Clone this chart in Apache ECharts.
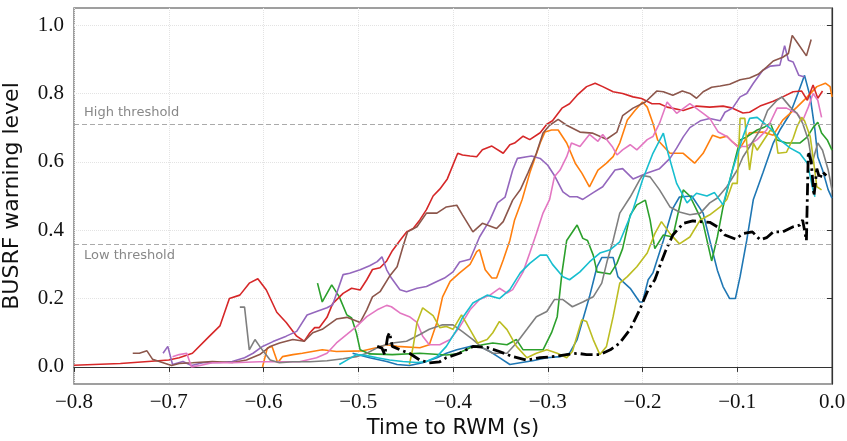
<!DOCTYPE html>
<html>
<head>
<meta charset="utf-8">
<script src="https://cdn.jsdelivr.net/npm/echarts@6/dist/echarts.min.js"></script>
<style>
  html, body { margin: 0; padding: 0; background: #fff; }
  #chart { width: 847px; height: 441px; }
</style>
</head>
<body>
<div id="chart"></div>
<script>
// tick values
const xTicks = [-0.8, -0.7, -0.6, -0.5, -0.4, -0.3, -0.2, -0.1, 0.0];
const yTicks = [0.0, 0.2, 0.4, 0.6, 0.8, 1.0];

// warning thresholds
const highThreshold = 0.71;
const lowThreshold = 0.361;

// one trace per shot: [time to RWM (s), warning level]
const shotRed = [[-0.800,0.005],[-0.751,0.01],[-0.700,0.02],[-0.689,0.027],[-0.675,0.04],[-0.657,0.09],[-0.646,0.12],[-0.636,0.2],[-0.625,0.21],[-0.615,0.245],[-0.606,0.258],[-0.597,0.225],[-0.586,0.16],[-0.576,0.13],[-0.565,0.09],[-0.557,0.075],[-0.551,0.1],[-0.546,0.115],[-0.541,0.115],[-0.533,0.145],[-0.527,0.185],[-0.516,0.215],[-0.507,0.23],[-0.498,0.225],[-0.491,0.255],[-0.485,0.285],[-0.477,0.29],[-0.470,0.31],[-0.464,0.34],[-0.456,0.37],[-0.449,0.395],[-0.442,0.405],[-0.435,0.43],[-0.428,0.46],[-0.421,0.5],[-0.414,0.52],[-0.406,0.55],[-0.395,0.625],[-0.390,0.62],[-0.382,0.617],[-0.375,0.615],[-0.369,0.635],[-0.359,0.646],[-0.347,0.625],[-0.340,0.65],[-0.335,0.655],[-0.326,0.675],[-0.319,0.665],[-0.308,0.685],[-0.301,0.71],[-0.295,0.72],[-0.285,0.757],[-0.277,0.77],[-0.269,0.795],[-0.259,0.82],[-0.250,0.83],[-0.242,0.82],[-0.231,0.805],[-0.221,0.8],[-0.210,0.79],[-0.201,0.785],[-0.190,0.77],[-0.182,0.77],[-0.174,0.76],[-0.157,0.75],[-0.143,0.763],[-0.129,0.76],[-0.115,0.763],[-0.105,0.757],[-0.094,0.743],[-0.087,0.745],[-0.076,0.763],[-0.062,0.777],[-0.052,0.79],[-0.041,0.805],[-0.032,0.807],[-0.026,0.78],[-0.020,0.825],[-0.015,0.786],[-0.010,0.807]];

const shotBrown = [[-0.738,0.04],[-0.731,0.04],[-0.723,0.047],[-0.717,0.022],[-0.710,0.016],[-0.697,0.004],[-0.689,0.01],[-0.675,0.012],[-0.654,0.016],[-0.633,0.013],[-0.618,0.02],[-0.604,0.036],[-0.593,0.06],[-0.583,0.07],[-0.569,0.08],[-0.557,0.075],[-0.548,0.1],[-0.538,0.11],[-0.523,0.14],[-0.512,0.145],[-0.498,0.13],[-0.491,0.167],[-0.485,0.205],[-0.477,0.22],[-0.467,0.265],[-0.459,0.293],[-0.453,0.35],[-0.448,0.395],[-0.438,0.41],[-0.428,0.45],[-0.417,0.45],[-0.407,0.468],[-0.396,0.473],[-0.390,0.445],[-0.379,0.395],[-0.369,0.42],[-0.354,0.405],[-0.347,0.425],[-0.337,0.488],[-0.329,0.518],[-0.321,0.567],[-0.312,0.625],[-0.305,0.684],[-0.298,0.707],[-0.289,0.724],[-0.280,0.707],[-0.266,0.687],[-0.253,0.684],[-0.238,0.666],[-0.227,0.687],[-0.221,0.735],[-0.210,0.757],[-0.197,0.775],[-0.185,0.807],[-0.178,0.805],[-0.168,0.795],[-0.158,0.807],[-0.150,0.8],[-0.143,0.786],[-0.136,0.805],[-0.127,0.818],[-0.118,0.822],[-0.108,0.827],[-0.097,0.84],[-0.087,0.845],[-0.078,0.856],[-0.069,0.877],[-0.062,0.895],[-0.052,0.906],[-0.046,0.917],[-0.042,0.97],[-0.036,0.946],[-0.027,0.91],[-0.022,0.958]];

const shotPurple = [[-0.706,0.04],[-0.701,0.06],[-0.696,0.007],[-0.685,0.016],[-0.676,0.004],[-0.664,0.012],[-0.646,0.013],[-0.633,0.016],[-0.620,0.027],[-0.611,0.04],[-0.601,0.06],[-0.590,0.074],[-0.576,0.09],[-0.565,0.104],[-0.554,0.152],[-0.544,0.162],[-0.533,0.173],[-0.527,0.182],[-0.516,0.27],[-0.509,0.274],[-0.498,0.284],[-0.488,0.296],[-0.480,0.308],[-0.475,0.322],[-0.470,0.284],[-0.465,0.26],[-0.456,0.226],[-0.449,0.22],[-0.438,0.23],[-0.428,0.235],[-0.417,0.25],[-0.409,0.26],[-0.400,0.278],[-0.393,0.307],[-0.382,0.315],[-0.372,0.38],[-0.361,0.43],[-0.353,0.48],[-0.345,0.497],[-0.337,0.576],[-0.332,0.61],[-0.322,0.615],[-0.317,0.617],[-0.308,0.61],[-0.300,0.59],[-0.293,0.56],[-0.284,0.512],[-0.277,0.498],[-0.269,0.498],[-0.263,0.49],[-0.252,0.51],[-0.242,0.527],[-0.229,0.576],[-0.221,0.58],[-0.210,0.55],[-0.195,0.567],[-0.182,0.58],[-0.171,0.61],[-0.164,0.64],[-0.157,0.673],[-0.150,0.7],[-0.139,0.72],[-0.129,0.727],[-0.118,0.72],[-0.113,0.745],[-0.105,0.757],[-0.097,0.79],[-0.090,0.8],[-0.083,0.83],[-0.073,0.868],[-0.065,0.88],[-0.055,0.883],[-0.050,0.94],[-0.046,0.897],[-0.041,0.892],[-0.035,0.853],[-0.029,0.848]];

const shotPink = [[-0.696,0.03],[-0.689,0.036],[-0.681,0.04],[-0.676,0.0],[-0.667,0.004],[-0.654,0.012],[-0.633,0.012],[-0.604,0.015],[-0.562,0.015],[-0.544,0.027],[-0.533,0.04],[-0.523,0.07],[-0.512,0.095],[-0.502,0.118],[-0.491,0.147],[-0.480,0.167],[-0.470,0.18],[-0.465,0.176],[-0.456,0.158],[-0.446,0.147],[-0.438,0.13],[-0.432,0.09],[-0.425,0.065],[-0.414,0.065],[-0.403,0.08],[-0.393,0.117],[-0.382,0.167],[-0.372,0.197],[-0.361,0.21],[-0.351,0.23],[-0.343,0.216],[-0.337,0.226],[-0.326,0.278],[-0.319,0.333],[-0.312,0.39],[-0.305,0.45],[-0.298,0.49],[-0.293,0.556],[-0.287,0.576],[-0.280,0.615],[-0.275,0.655],[-0.266,0.645],[-0.256,0.68],[-0.247,0.66],[-0.242,0.68],[-0.232,0.645],[-0.227,0.62],[-0.221,0.635],[-0.213,0.65],[-0.206,0.635],[-0.195,0.665],[-0.189,0.674],[-0.182,0.713],[-0.174,0.775],[-0.164,0.742],[-0.150,0.77],[-0.136,0.742],[-0.129,0.727],[-0.120,0.687],[-0.111,0.674],[-0.100,0.645],[-0.090,0.645],[-0.079,0.665],[-0.069,0.693],[-0.058,0.757],[-0.048,0.757],[-0.037,0.742],[-0.031,0.72],[-0.025,0.76],[-0.020,0.8],[-0.015,0.78],[-0.011,0.73]];

const shotOrange = [[-0.601,0.0],[-0.596,0.055],[-0.591,0.06],[-0.585,0.012],[-0.580,0.03],[-0.569,0.036],[-0.559,0.04],[-0.538,0.05],[-0.523,0.045],[-0.495,0.047],[-0.480,0.057],[-0.470,0.065],[-0.459,0.06],[-0.435,0.056],[-0.425,0.065],[-0.417,0.13],[-0.411,0.205],[-0.403,0.25],[-0.393,0.275],[-0.382,0.3],[-0.375,0.337],[-0.372,0.343],[-0.366,0.284],[-0.359,0.26],[-0.354,0.26],[-0.347,0.313],[-0.340,0.37],[-0.335,0.43],[-0.327,0.49],[-0.319,0.567],[-0.308,0.655],[-0.303,0.687],[-0.296,0.693],[-0.289,0.693],[-0.280,0.655],[-0.271,0.596],[-0.264,0.567],[-0.256,0.527],[-0.247,0.576],[-0.238,0.596],[-0.231,0.615],[-0.224,0.655],[-0.216,0.722],[-0.208,0.75],[-0.200,0.775],[-0.195,0.76],[-0.189,0.713],[-0.184,0.664],[-0.171,0.625],[-0.157,0.625],[-0.145,0.596],[-0.136,0.625],[-0.126,0.678],[-0.118,0.67],[-0.111,0.675],[-0.105,0.658],[-0.097,0.64],[-0.087,0.685],[-0.073,0.687],[-0.062,0.678],[-0.052,0.722],[-0.037,0.76],[-0.026,0.79],[-0.016,0.82],[-0.007,0.83],[-0.002,0.82],[0.0,0.79]];

const shotGray = [[-0.625,0.175],[-0.620,0.175],[-0.615,0.05],[-0.609,0.08],[-0.604,0.06],[-0.593,0.02],[-0.583,0.012],[-0.569,0.015],[-0.551,0.015],[-0.533,0.018],[-0.516,0.024],[-0.502,0.03],[-0.491,0.04],[-0.477,0.06],[-0.464,0.07],[-0.449,0.075],[-0.435,0.095],[-0.425,0.11],[-0.411,0.123],[-0.400,0.123],[-0.390,0.103],[-0.379,0.08],[-0.369,0.056],[-0.358,0.04],[-0.343,0.04],[-0.333,0.07],[-0.322,0.11],[-0.312,0.147],[-0.301,0.162],[-0.293,0.197],[-0.284,0.197],[-0.274,0.176],[-0.263,0.19],[-0.252,0.205],[-0.243,0.245],[-0.237,0.313],[-0.231,0.37],[-0.224,0.45],[-0.213,0.497],[-0.203,0.547],[-0.200,0.56],[-0.192,0.556],[-0.182,0.518],[-0.171,0.468],[-0.161,0.453],[-0.150,0.445],[-0.139,0.45],[-0.129,0.48],[-0.121,0.494],[-0.111,0.527],[-0.100,0.576],[-0.094,0.614],[-0.087,0.644],[-0.076,0.693],[-0.068,0.75],[-0.058,0.78],[-0.053,0.79],[-0.044,0.76],[-0.037,0.742],[-0.031,0.713],[-0.025,0.664],[-0.021,0.596],[-0.015,0.655],[-0.010,0.634],[-0.004,0.576],[0.0,0.518]];

const shotOlive = [[-0.446,0.007],[-0.442,0.06],[-0.438,0.13],[-0.432,0.173],[-0.421,0.15],[-0.414,0.115],[-0.407,0.118],[-0.400,0.11],[-0.391,0.152],[-0.382,0.109],[-0.374,0.07],[-0.364,0.08],[-0.358,0.1],[-0.351,0.133],[-0.343,0.109],[-0.333,0.06],[-0.322,0.027],[-0.312,0.04],[-0.301,0.05],[-0.290,0.04],[-0.280,0.027],[-0.274,0.045],[-0.264,0.138],[-0.259,0.133],[-0.252,0.08],[-0.245,0.036],[-0.238,0.06],[-0.231,0.147],[-0.224,0.245],[-0.216,0.264],[-0.206,0.293],[-0.195,0.333],[-0.187,0.39],[-0.180,0.425],[-0.171,0.39],[-0.161,0.36],[-0.150,0.38],[-0.139,0.43],[-0.129,0.445],[-0.118,0.468],[-0.111,0.49],[-0.105,0.537],[-0.100,0.537],[-0.097,0.727],[-0.092,0.727],[-0.090,0.655],[-0.087,0.576],[-0.083,0.655],[-0.079,0.634],[-0.074,0.655],[-0.065,0.693],[-0.060,0.684],[-0.057,0.625],[-0.048,0.628],[-0.041,0.669],[-0.037,0.702],[-0.032,0.73],[-0.029,0.72],[-0.023,0.674],[-0.020,0.614],[-0.016,0.527],[-0.011,0.518]];

const shotCyan = [[-0.520,0.007],[-0.512,0.02],[-0.502,0.036],[-0.491,0.033],[-0.480,0.027],[-0.467,0.02],[-0.453,0.016],[-0.438,0.013],[-0.428,0.016],[-0.417,0.03],[-0.407,0.06],[-0.396,0.109],[-0.390,0.144],[-0.379,0.187],[-0.364,0.21],[-0.351,0.2],[-0.340,0.226],[-0.329,0.275],[-0.319,0.303],[-0.308,0.327],[-0.301,0.327],[-0.295,0.3],[-0.284,0.264],[-0.277,0.255],[-0.266,0.278],[-0.256,0.307],[-0.245,0.333],[-0.234,0.343],[-0.224,0.366],[-0.210,0.46],[-0.200,0.547],[-0.189,0.625],[-0.178,0.684],[-0.173,0.625],[-0.164,0.537],[-0.153,0.48],[-0.143,0.508],[-0.132,0.5],[-0.124,0.51],[-0.115,0.474],[-0.105,0.576],[-0.094,0.673],[-0.087,0.727],[-0.079,0.73],[-0.073,0.716],[-0.063,0.693],[-0.055,0.664],[-0.044,0.64],[-0.034,0.625],[-0.026,0.596],[-0.020,0.518],[-0.018,0.498]];

const shotGreen = [[-0.543,0.245],[-0.538,0.19],[-0.528,0.24],[-0.520,0.205],[-0.512,0.152],[-0.507,0.143],[-0.502,0.1],[-0.498,0.05],[-0.488,0.038],[-0.464,0.036],[-0.435,0.04],[-0.407,0.035],[-0.396,0.038],[-0.382,0.056],[-0.369,0.065],[-0.358,0.07],[-0.343,0.065],[-0.333,0.08],[-0.326,0.05],[-0.305,0.05],[-0.296,0.1],[-0.290,0.147],[-0.285,0.275],[-0.280,0.37],[-0.269,0.415],[-0.263,0.376],[-0.258,0.37],[-0.252,0.327],[-0.248,0.278],[-0.234,0.272],[-0.227,0.303],[-0.221,0.346],[-0.213,0.444],[-0.206,0.474],[-0.197,0.488],[-0.192,0.43],[-0.187,0.346],[-0.178,0.386],[-0.168,0.38],[-0.157,0.518],[-0.150,0.5],[-0.143,0.46],[-0.136,0.42],[-0.127,0.31],[-0.121,0.38],[-0.115,0.468],[-0.106,0.567],[-0.097,0.664],[-0.090,0.673],[-0.079,0.693],[-0.071,0.702],[-0.065,0.713],[-0.058,0.664],[-0.048,0.655],[-0.034,0.655],[-0.026,0.673],[-0.020,0.7],[-0.015,0.716],[-0.011,0.684],[-0.005,0.664],[0.0,0.634]];

const shotBlue = [[-0.506,0.04],[-0.488,0.027],[-0.470,0.016],[-0.459,0.007],[-0.446,0.004],[-0.432,0.012],[-0.417,0.027],[-0.407,0.04],[-0.396,0.05],[-0.382,0.06],[-0.372,0.06],[-0.361,0.045],[-0.351,0.027],[-0.340,0.007],[-0.329,0.012],[-0.316,0.018],[-0.301,0.027],[-0.287,0.03],[-0.277,0.04],[-0.269,0.08],[-0.263,0.138],[-0.256,0.205],[-0.248,0.293],[-0.243,0.32],[-0.231,0.32],[-0.226,0.264],[-0.221,0.25],[-0.213,0.23],[-0.203,0.19],[-0.200,0.19],[-0.194,0.255],[-0.189,0.275],[-0.178,0.37],[-0.168,0.464],[-0.161,0.497],[-0.148,0.5],[-0.136,0.45],[-0.129,0.37],[-0.121,0.283],[-0.115,0.235],[-0.108,0.2],[-0.102,0.2],[-0.097,0.264],[-0.090,0.37],[-0.083,0.49],[-0.073,0.567],[-0.062,0.655],[-0.055,0.693],[-0.044,0.742],[-0.036,0.8],[-0.029,0.853],[-0.023,0.79],[-0.018,0.693],[-0.015,0.614],[-0.010,0.576],[-0.004,0.518],[0.0,0.494]];

const shotBlack = [[-0.480,0.06],[-0.475,0.055],[-0.472,0.035],[-0.469,0.088],[-0.467,0.1],[-0.464,0.06],[-0.456,0.05],[-0.446,0.04],[-0.435,0.02],[-0.425,0.012],[-0.414,0.015],[-0.407,0.027],[-0.393,0.04],[-0.379,0.06],[-0.364,0.057],[-0.351,0.045],[-0.337,0.03],[-0.322,0.02],[-0.308,0.027],[-0.295,0.03],[-0.280,0.036],[-0.269,0.04],[-0.259,0.036],[-0.245,0.036],[-0.234,0.05],[-0.224,0.07],[-0.213,0.11],[-0.203,0.167],[-0.194,0.226],[-0.187,0.255],[-0.182,0.293],[-0.176,0.337],[-0.168,0.386],[-0.157,0.42],[-0.147,0.427],[-0.136,0.424],[-0.129,0.423],[-0.121,0.41],[-0.113,0.386],[-0.102,0.374],[-0.094,0.39],[-0.084,0.395],[-0.076,0.372],[-0.069,0.378],[-0.062,0.395],[-0.052,0.395],[-0.041,0.41],[-0.034,0.415],[-0.031,0.43],[-0.027,0.37],[-0.025,0.63],[-0.022,0.6],[-0.019,0.5],[-0.016,0.58],[-0.013,0.55],[-0.010,0.57],[-0.006,0.56]];

const traces = [
  { data: shotBlue,   color: '#1f77b4' },
  { data: shotOrange, color: '#ff7f0e' },
  { data: shotGreen,  color: '#2ca02c' },
  { data: shotRed,    color: '#d62728' },
  { data: shotPurple, color: '#9467bd' },
  { data: shotBrown,  color: '#8c564b' },
  { data: shotPink,   color: '#e377c2' },
  { data: shotGray,   color: '#7f7f7f' },
  { data: shotOlive,  color: '#bcbd22' },
  { data: shotCyan,   color: '#17becf' }
];

const minus = s => s.replace('-', '\u2212');

const chart = echarts.init(document.getElementById('chart'));

const series = traces.map(t => ({
  type: 'line',
  data: t.data,
  showSymbol: false,
  lineStyle: { color: t.color, width: 1.6 },
  itemStyle: { color: t.color },
  z: 3
}));

// reference run, dash-dot black
series.push({
  type: 'line',
  data: shotBlack,
  showSymbol: false,
  lineStyle: { color: '#000', width: 2.8, type: [12, 4, 2.5, 4] },
  itemStyle: { color: '#000' },
  z: 4
});

// threshold lines
const thresholdLabel = { show: true, distance: [10, 5], color: '#888', fontSize: 13, fontFamily: 'DejaVu Sans' };
series.push({
  type: 'line',
  data: [],
  markLine: {
    silent: true,
    symbol: 'none',
    lineStyle: { color: '#aaaaaa', width: 1.2, type: [5, 3] },
    data: [
      { yAxis: highThreshold, label: { ...thresholdLabel, formatter: 'High threshold', position: 'insideStartTop' } },
      { yAxis: lowThreshold, label: { ...thresholdLabel, formatter: 'Low threshold', position: 'insideStartBottom' } }
    ]
  },
  z: 2
});

chart.setOption({
  animation: false,
  grid: {
    left: 74, right: 15, top: 8, bottom: 57,
    containLabel: false, outerBoundsMode: 'none',
    show: true, borderColor: '#808080', borderWidth: 1.5
  },
  xAxis: {
    type: 'value',
    min: -0.8, max: 0, interval: 0.1,
    name: 'Time to RWM (s)',
    nameLocation: 'middle', nameGap: 33,
    nameTextStyle: { fontFamily: 'DejaVu Sans', fontSize: 21, color: '#111' },
    axisLine: { lineStyle: { color: '#333', width: 1.2 } },
    axisTick: { show: true, length: 5, lineStyle: { color: '#333' } },
    axisLabel: { formatter: v => minus(v.toFixed(1)), fontFamily: 'Liberation Serif', fontSize: 21, color: '#111', margin: 8 },
    splitLine: { show: true, lineStyle: { color: '#e3e3e3', type: 'dotted', width: 1 } }
  },
  yAxis: {
    type: 'value',
    min: -0.05, max: 1.05,
    name: 'BUSRF warning level',
    nameLocation: 'middle', nameGap: 51,
    nameTextStyle: { fontFamily: 'DejaVu Sans', fontSize: 22, color: '#111' },
    axisLine: { show: true, lineStyle: { color: '#333', width: 1.2 } },
    axisTick: { show: true, length: 5, lineStyle: { color: '#333' }, customValues: yTicks },
    axisLabel: { customValues: yTicks, formatter: v => v.toFixed(1), fontFamily: 'Liberation Serif', fontSize: 21, color: '#111', margin: 10 },
    splitLine: { show: true, lineStyle: { color: '#e3e3e3', type: 'dotted', width: 1 } }
  },
  series
});
</script>
</body>
</html>
